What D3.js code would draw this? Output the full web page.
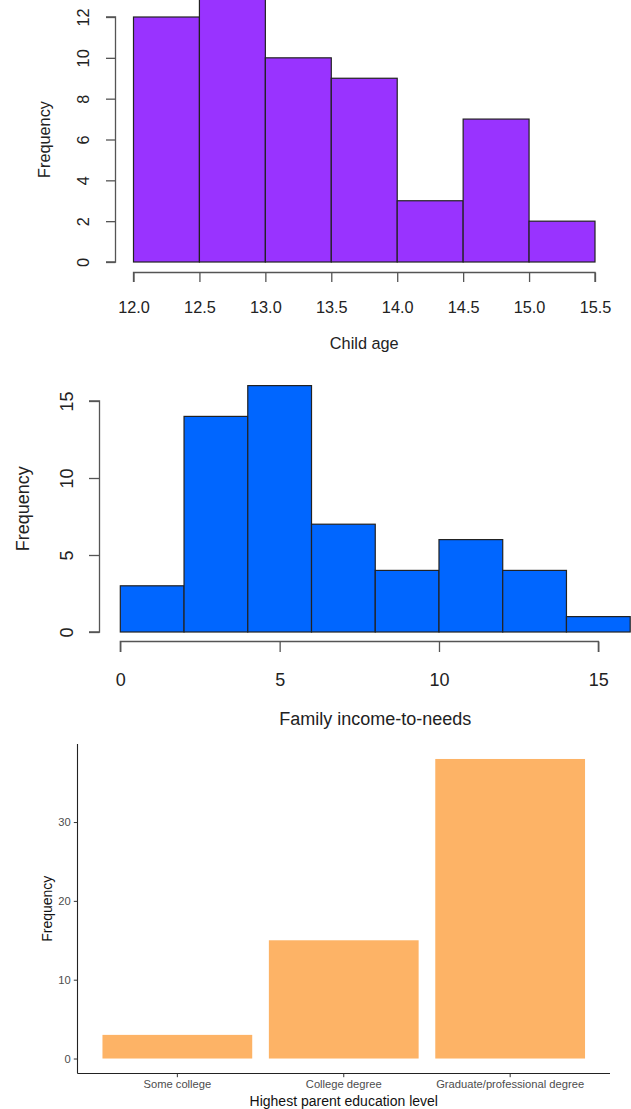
<!DOCTYPE html>
<html>
<head>
<meta charset="utf-8">
<script src="https://cdn.jsdelivr.net/npm/d3@7"></script>
<style>
  html, body { margin: 0; padding: 0; background: #fff; }
  svg { display: block; font-family: "Liberation Sans", Arial, Helvetica, sans-serif; }
</style>
</head>
<body>
<svg id="chart" width="631" height="1109"></svg>
<script>
// Child age histogram
const ageBreaks = [12.0, 12.5, 13.0, 13.5, 14.0, 14.5, 15.0, 15.5];
const ageCounts = [12, 13, 10, 9, 3, 7, 2];
const ageXTicks = [12.0, 12.5, 13.0, 13.5, 14.0, 14.5, 15.0, 15.5];
const ageYTicks = [0, 2, 4, 6, 8, 10, 12];

// Family income-to-needs histogram
const incomeBreaks = [0, 2, 4, 6, 8, 10, 12, 14, 16];
const incomeCounts = [3, 14, 16, 7, 4, 6, 4, 1];
const incomeXTicks = [0, 5, 10, 15];
const incomeYTicks = [0, 5, 10, 15];

// Highest parent education level bar chart
const eduLevels = ["Some college", "College degree", "Graduate/professional degree"];
const eduCounts = [3, 15, 38];
const eduYTicks = [0, 10, 20, 30];

const svg = d3.select("#chart");
const ink = "#222";
const axisInk = "#555";

// Base-graphics style histogram panel
function histPanel(opts) {
  const g = svg.append("g");
  const x = d3.scaleLinear().domain(opts.xDomain).range(opts.xRange);
  const y = d3.scaleLinear().domain(opts.yDomain).range(opts.yRange);
  const bins = opts.counts.map((c, i) => ({ x0: opts.breaks[i], x1: opts.breaks[i + 1], n: c }));

  g.selectAll("rect.bar").data(bins).join("rect")
    .attr("class", "bar")
    .attr("x", d => x(d.x0))
    .attr("width", d => x(d.x1) - x(d.x0))
    .attr("y", d => y(d.n))
    .attr("height", d => y(0) - y(d.n))
    .attr("fill", opts.fill)
    .attr("stroke", ink)
    .attr("stroke-width", 1.2);

  // bottom axis, offset below the bars
  const xAxis = d3.axisBottom(x).tickValues(opts.xTicks)
    .tickSize(opts.tick).tickPadding(opts.xPad)
    .tickFormat(opts.xFormat);
  const gx = g.append("g").attr("transform", `translate(0,${opts.xAxisY})`).call(xAxis);
  gx.select(".domain").attr("stroke", axisInk).attr("stroke-width", 1.3)
    .attr("d", `M${x(opts.xTicks[0])},${opts.tick}V0H${x(opts.xTicks[opts.xTicks.length - 1])}V${opts.tick}`);
  gx.selectAll(".tick line").attr("stroke", axisInk).attr("stroke-width", 1.3);
  gx.selectAll(".tick text").attr("fill", ink).attr("font-size", opts.font)
    .attr("font-family", null);

  // left axis with rotated labels
  const yAxis = d3.axisLeft(y).tickValues(opts.yTicks).tickSize(opts.tick).tickFormat(d3.format("d"));
  const gy = g.append("g").attr("transform", `translate(${opts.yAxisX},0)`).call(yAxis);
  gy.select(".domain").attr("stroke", axisInk).attr("stroke-width", 1.3)
    .attr("d", `M${-opts.tick},${y(opts.yTicks[0])}H0V${y(opts.yTicks[opts.yTicks.length - 1])}H${-opts.tick}`);
  gy.selectAll(".tick line").attr("stroke", axisInk).attr("stroke-width", 1.3);
  gy.selectAll(".tick text")
    .attr("fill", ink).attr("font-size", opts.font).attr("font-family", null)
    .attr("text-anchor", "middle")
    .attr("x", null).attr("dy", null)
    .attr("transform", `translate(${opts.yLabelX - opts.yAxisX},0) rotate(-90)`)
    .attr("dy", "0.35em");

  g.append("text")
    .attr("transform", `translate(${opts.yTitleX},${(y.range()[0] + y.range()[1]) / 2}) rotate(-90)`)
    .attr("text-anchor", "middle").attr("dy", "0.35em")
    .attr("font-size", opts.font).attr("fill", ink)
    .text("Frequency");

  g.append("text")
    .attr("x", x((opts.xDomain[0] + opts.xDomain[1]) / 2))
    .attr("y", opts.xTitleY)
    .attr("text-anchor", "middle").attr("dy", "0.35em")
    .attr("font-size", opts.font).attr("fill", ink)
    .text(opts.xTitle);
}

histPanel({
  breaks: ageBreaks, counts: ageCounts, fill: "#9933FF",
  xDomain: [12, 15.5], xRange: [133.5, 595],
  yDomain: [0, 12], yRange: [262, 17],
  xTicks: ageXTicks, yTicks: ageYTicks, xFormat: d3.format(".1f"),
  xAxisY: 272.5, yAxisX: 115.5, tick: 9.5, xPad: 19,
  yLabelX: 83.5, yTitleX: 44, xTitleY: 343, font: 16.3,
  xTitle: "Child age"
});

histPanel({
  breaks: incomeBreaks, counts: incomeCounts, fill: "#0066FF",
  xDomain: [0, 16], xRange: [120.3, 630.2],
  yDomain: [0, 16], yRange: [632, 385.6],
  xTicks: incomeXTicks, yTicks: incomeYTicks, xFormat: d3.format("d"),
  xAxisY: 641.5, yAxisX: 99.5, tick: 10.5, xPad: 21,
  yLabelX: 66.5, yTitleX: 22.5, xTitleY: 719, font: 18,
  xTitle: "Family income-to-needs"
});

// Classic-theme bar chart
(function () {
  const g = svg.append("g");
  const left = 77.5, right = 610, top = 744, bottom = 1073.5;
  const x = d3.scaleBand().domain(eduLevels).range([left, right])
    .paddingInner(0.1).paddingOuter(0.15);
  const yMax = d3.max(eduCounts);
  const y = d3.scaleLinear().domain([-0.05 * yMax, 1.05 * yMax]).range([bottom, top]);

  g.selectAll("rect.bar").data(eduLevels).join("rect")
    .attr("class", "bar")
    .attr("x", d => x(d))
    .attr("width", x.bandwidth())
    .attr("y", (d, i) => y(eduCounts[i]))
    .attr("height", (d, i) => y(0) - y(eduCounts[i]))
    .attr("fill", "#FDB366");

  const tickInk = "#4D4D4D";
  const gy = g.append("g").attr("transform", `translate(${left},0)`)
    .call(d3.axisLeft(y).tickValues(eduYTicks).tickSize(3.7).tickPadding(3).tickFormat(d3.format("d")));
  gy.select(".domain").attr("stroke", "#222").attr("stroke-width", 1.1)
    .attr("d", `M0,${top}V${bottom}`);
  gy.selectAll(".tick line").attr("stroke", "#333").attr("stroke-width", 1);
  gy.selectAll(".tick text").attr("fill", tickInk).attr("font-size", 11.2).attr("font-family", null);

  const gx = g.append("g").attr("transform", `translate(0,${bottom})`)
    .call(d3.axisBottom(x).tickSize(3.7).tickPadding(3));
  gx.select(".domain").attr("stroke", "#222").attr("stroke-width", 1.1)
    .attr("d", `M${left},0H${right}`);
  gx.selectAll(".tick line").attr("stroke", "#333").attr("stroke-width", 1);
  gx.selectAll(".tick text").attr("fill", tickInk).attr("font-size", 11.2).attr("font-family", null);

  g.append("text")
    .attr("transform", `translate(47.5,${(top + bottom) / 2}) rotate(-90)`)
    .attr("text-anchor", "middle").attr("dy", "0.35em")
    .attr("font-size", 14).attr("fill", "#111")
    .text("Frequency");

  g.append("text")
    .attr("x", (left + right) / 2).attr("y", 1101)
    .attr("text-anchor", "middle").attr("dy", "0.35em")
    .attr("font-size", 14).attr("fill", "#111")
    .text("Highest parent education level");
})();
</script>
</body>
</html>
